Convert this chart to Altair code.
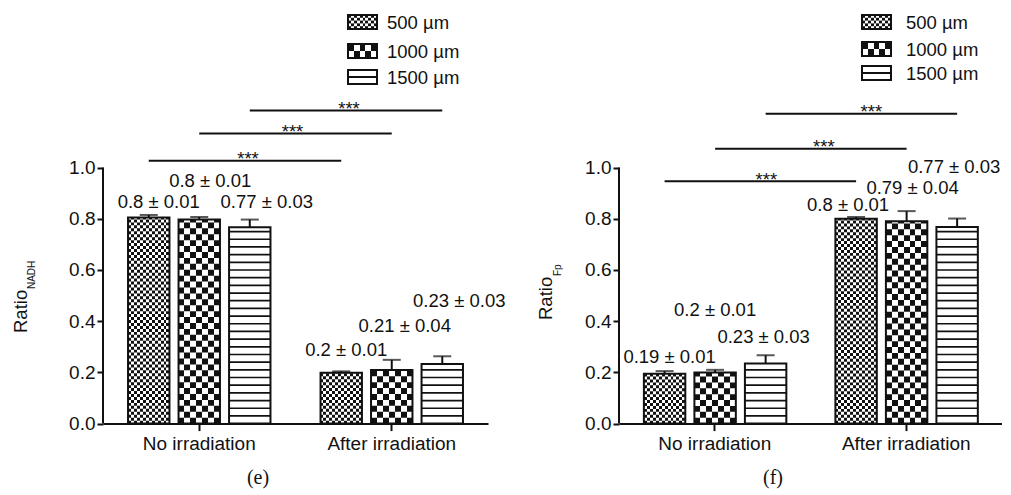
import altair as alt
import pandas as pd

groups = ["No irradiation", "After irradiation"]
sizes = ["500 µm", "1000 µm", "1500 µm"]

# Panel (e): Ratio NADH  (order: No irradiation x3 sizes, After irradiation x3 sizes)
nadh_mean = [0.805, 0.797, 0.767, 0.199, 0.209, 0.233]
nadh_err = [0.010, 0.010, 0.030, 0.005, 0.040, 0.030]
nadh_text = ["0.8 ± 0.01", "0.8 ± 0.01", "0.77 ± 0.03", "0.2 ± 0.01", "0.21 ± 0.04", "0.23 ± 0.03"]

# Panel (f): Ratio Fp
fp_mean = [0.195, 0.200, 0.235, 0.800, 0.790, 0.768]
fp_err = [0.010, 0.010, 0.032, 0.007, 0.040, 0.033]
fp_text = ["0.19 ± 0.01", "0.2 ± 0.01", "0.23 ± 0.03", "0.8 ± 0.01", "0.79 ± 0.04", "0.77 ± 0.03"]

sig_text = "***"
y_ticks = [0.0, 0.2, 0.4, 0.6, 0.8, 1.0]

# ---- annotation placement (layout, not data) ----
nadh_label_y = [0.867, 0.949, 0.867, 0.289, 0.383, 0.480]
nadh_label_dx = [10, 11, 17, 5, 13, 17]
nadh_sig_y = [1.027, 1.133, 1.223]
nadh_star_dx = [3, -3, 3]
fp_label_y = [0.259, 0.443, 0.338, 0.855, 0.920, 1.002]
fp_label_dx = [5, 0, -2, -8, 6, -3]
fp_sig_y = [0.947, 1.074, 1.210]
fp_star_dx = [6, 13, 10]

FONT = "Liberation Sans"
SERIF = "Liberation Serif"
INK = "#111111"
WHITE = "#ffffff"
UNIT_PX = 256
Y_MAX = 1.6
PLOT_H = UNIT_PX * Y_MAX
PI, PO, OPI = 0.26, 0.13, 0.18

Y_SCALE = alt.Scale(domain=[0, Y_MAX], nice=False, zero=True)
X_SCALE = alt.Scale(domain=groups, paddingInner=PI, paddingOuter=PO)
XO_SCALE = alt.Scale(domain=sizes, paddingInner=OPI, paddingOuter=0)

X_AXIS = alt.Axis(title=None, labelAngle=0, labelFontSize=19, labelPadding=4,
                  tickSize=7, tickWidth=2, domainWidth=2, labelFont=FONT, labelColor=INK,
                  domainColor=INK, tickColor=INK, grid=False)
Y_AXIS = alt.Axis(title=None, values=y_ticks, format=".1f", domain=False, tickSize=6,
                  tickWidth=2, labelFontSize=19, labelPadding=2, grid=False, labelFont=FONT,
                  labelColor=INK, tickColor=INK)


def grad(n, first_black):
    stops = []
    for i in range(n):
        black = (i % 2 == 0) == first_black
        c = INK if black else WHITE
        stops.append(alt.GradientStop(offset=i / n, color=c))
        stops.append(alt.GradientStop(offset=(i + 1) / n, color=c))
    return alt.LinearGradient(gradient="linear", stops=stops, x1=0, x2=1, y1=0, y2=0)


def yq(field):
    return alt.Y(field, type="quantitative", scale=Y_SCALE, axis=Y_AXIS)


def xb():
    return alt.X("group:N", scale=X_SCALE, sort=groups, axis=X_AXIS)


def xo():
    return alt.XOffset("size:N", scale=XO_SCALE, sort=sizes)


def one():
    return pd.DataFrame({"k": [0]})


def panel(mean, err, text, label_y, label_dx, sig_y, star_dx, width,
          leg_x, leg_tops, leg_text_x, title_sub, title_pos, sub_pos, caption, cap_x):
    n_g = [g for g in groups for _ in sizes]
    n_s = [s for _ in groups for s in sizes]
    bars = pd.DataFrame({"group": n_g, "size": n_s, "mean": mean, "err": err,
                         "label": text, "label_y": label_y})
    bars["top"] = bars["mean"] + bars["err"]

    step = width / (2 - PI + 2 * PO)
    bw = step * (1 - PI)
    obw = bw / (3 - OPI) * (1 - OPI)
    cells = {sizes[0]: 14, sizes[1]: 7}

    rows = []
    stripes = []
    for g, s, v in zip(n_g, n_s, mean):
        if s in cells:
            h = obw / cells[s] / UNIT_PX
            j = 1
            while j * h < v:
                rows.append({"group": g, "size": s, "y": j * h, "y2": min((j + 1) * h, v)})
                j += 2
        else:
            k = 1
            while k * 0.03 < v - 0.008:
                stripes.append({"group": g, "size": s, "y": k * 0.03 - 0.0033, "y2": k * 0.03 + 0.0033})
                k += 1
    rows = pd.DataFrame(rows)
    stripes = pd.DataFrame(stripes)

    layers = []
    base = alt.Chart(bars)
    layers.append(base.transform_filter(alt.datum.size == sizes[0])
                  .mark_bar(fill=grad(14, True))
                  .encode(x=xb(), xOffset=xo(), y=yq("mean")))
    layers.append(base.transform_filter(alt.datum.size == sizes[1])
                  .mark_bar(fill=grad(7, True))
                  .encode(x=xb(), xOffset=xo(), y=yq("mean")))
    layers.append(base.transform_filter(alt.datum.size == sizes[2])
                  .mark_bar(fill=WHITE)
                  .encode(x=xb(), xOffset=xo(), y=yq("mean")))
    rb = alt.Chart(rows)
    layers.append(rb.transform_filter(alt.datum.size == sizes[0])
                  .mark_bar(fill=grad(14, False))
                  .encode(x=xb(), xOffset=xo(), y=yq("y"), y2="y2"))
    layers.append(rb.transform_filter(alt.datum.size == sizes[1])
                  .mark_bar(fill=grad(7, False))
                  .encode(x=xb(), xOffset=xo(), y=yq("y"), y2="y2"))
    layers.append(alt.Chart(stripes).mark_bar(fill=INK)
                  .encode(x=xb(), xOffset=xo(), y=yq("y"), y2="y2"))
    layers.append(base.mark_rule(color=INK, strokeWidth=2)
                  .encode(x=xb(), xOffset=xo(), y=yq("mean"), y2="top"))
    layers.append(base.mark_tick(color=INK, thickness=2, size=18)
                  .encode(x=xb(), xOffset=xo(), y=yq("top")))
    layers.append(base.mark_bar(fillOpacity=0, stroke=INK, strokeWidth=2)
                  .encode(x=xb(), xOffset=xo(), y=yq("mean")))

    # value labels
    for i in range(len(mean)):
        layers.append(alt.Chart(bars.iloc[[i]]).mark_text(
            font=FONT, fontSize=18.5, color=INK, baseline="middle", dx=label_dx[i])
            .encode(x=xb(), xOffset=xo(), y=yq("label_y"), text="label:N"))

    # significance lines
    sig = pd.DataFrame({
        "comp": [k for k in range(3) for _ in groups],
        "group": [g for _ in range(3) for g in groups],
        "size": [sizes[k] for k in range(3) for _ in groups],
        "y": [sig_y[k] for k in range(3) for _ in groups],
    })
    layers.append(alt.Chart(sig).mark_line(color=INK, strokeWidth=2)
                  .encode(x=xb(), xOffset=xo(), y=yq("y"), detail="comp:N"))
    for k in range(3):
        sd = pd.DataFrame({"group": [groups[0]], "size": [sizes[k]], "y": [sig_y[k]], "t": [sig_text]})
        layers.append(alt.Chart(sd).mark_text(
            font=FONT, fontSize=18.5, color=INK, baseline="alphabetic",
            dx=step / 2 + star_dx[k], dy=4.6)
            .encode(x=xb(), xOffset=xo(), y=yq("y"), text="t:N"))

    # y axis line (0 to 1 only)
    layers.append(alt.Chart(one()).mark_rule(color=INK, strokeWidth=2).encode(
        x=alt.value(0), y=alt.YDatum(0.0, scale=Y_SCALE, axis=Y_AXIS), y2=alt.Y2Datum(1.0)))

    # legend
    sw = 14
    x1, x2 = leg_x
    for idx, s in enumerate(sizes):
        t = leg_tops[idx]
        if idx == 0:
            layers.append(alt.Chart(one()).mark_rect(fill=grad(10, True)).encode(
                x=alt.value(x1), x2=alt.value(x2), y=alt.value(t), y2=alt.value(t + sw)))
            for r in (1, 3):
                layers.append(alt.Chart(one()).mark_rect(fill=grad(10, False)).encode(
                    x=alt.value(x1), x2=alt.value(x2), y=alt.value(t + r * sw / 5),
                    y2=alt.value(t + (r + 1) * sw / 5)))
        elif idx == 1:
            layers.append(alt.Chart(one()).mark_rect(fill=grad(5, True)).encode(
                x=alt.value(x1), x2=alt.value(x2), y=alt.value(t), y2=alt.value(t + sw)))
            layers.append(alt.Chart(one()).mark_rect(fill=grad(5, False)).encode(
                x=alt.value(x1), x2=alt.value(x2), y=alt.value(t + sw / 2),
                y2=alt.value(t + sw)))
        else:
            layers.append(alt.Chart(one()).mark_rect(fill=WHITE).encode(
                x=alt.value(x1), x2=alt.value(x2), y=alt.value(t), y2=alt.value(t + sw)))
            layers.append(alt.Chart(one()).mark_rule(color=INK, strokeWidth=2).encode(
                x=alt.value(x1), x2=alt.value(x2), y=alt.value(t + sw / 2)))
        layers.append(alt.Chart(one()).mark_rect(fillOpacity=0, stroke=INK, strokeWidth=2).encode(
            x=alt.value(x1), x2=alt.value(x2), y=alt.value(t), y2=alt.value(t + sw)))
        layers.append(alt.Chart(pd.DataFrame({"t": [s]})).mark_text(
            font=FONT, fontSize=18.5, color=INK, align="left", baseline="middle").encode(
            x=alt.value(leg_text_x), y=alt.value(t + sw / 2 + 1), text="t:N"))

    # y title with subscript
    layers.append(alt.Chart(pd.DataFrame({"t": ["Ratio"]})).mark_text(
        font=FONT, fontSize=18.5, color=INK, angle=270, align="left", baseline="alphabetic").encode(
        x=alt.value(title_pos[0]), y=alt.value(title_pos[1]), text="t:N"))
    layers.append(alt.Chart(pd.DataFrame({"t": [title_sub]})).mark_text(
        font=FONT, fontSize=10, color=INK, angle=270, align="left", baseline="alphabetic").encode(
        x=alt.value(sub_pos[0]), y=alt.value(sub_pos[1]), text="t:N"))

    # caption
    layers.append(alt.Chart(pd.DataFrame({"t": [caption]})).mark_text(
        font=SERIF, fontSize=20, color=INK, align="center", baseline="alphabetic").encode(
        x=alt.value(cap_x), y=alt.value(470), text="t:N"))

    return alt.layer(*layers).properties(width=width, height=PLOT_H)


left = panel(nadh_mean, nadh_err, nadh_text, nadh_label_y, nadh_label_dx, nadh_sig_y, nadh_star_dx,
             385, (245, 274), [1, 30, 56], 284, "NADH", (-76, 319), (-68, 275), "(e)", 155)
right = panel(fp_mean, fp_err, fp_text, fp_label_y, fp_label_dx, fp_sig_y, fp_star_dx,
              383, (243, 272), [1, 28, 52], 287, "Fp", (-67, 306), (-58, 262), "(f)", 154)

chart = alt.hconcat(left, right, spacing=31).properties(
    padding={"left": 4, "top": 6, "right": 0, "bottom": 0}
).configure_view(strokeWidth=0)

chart.save("out.html", embed_options={"renderer": "svg", "actions": False})
